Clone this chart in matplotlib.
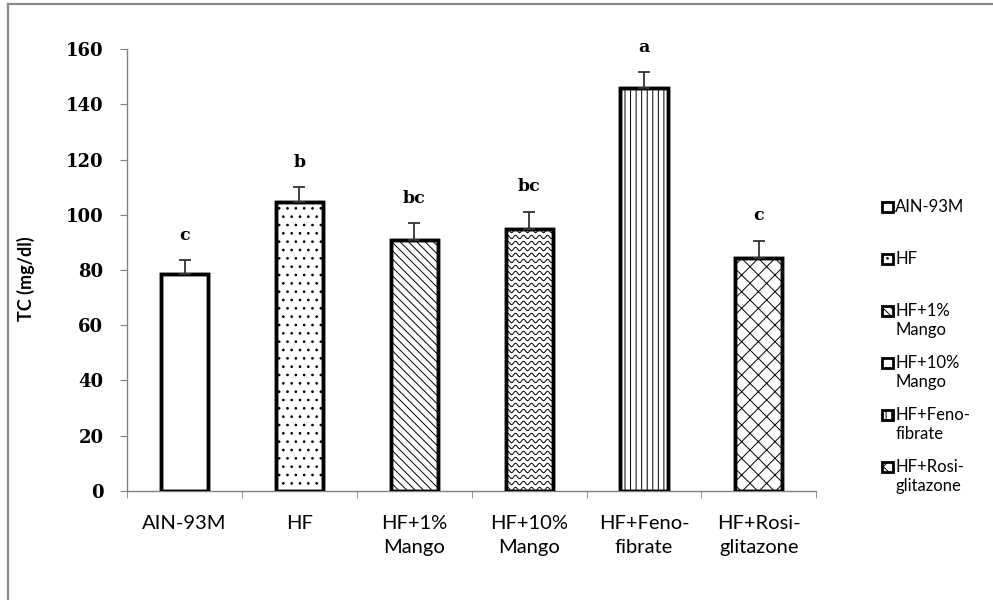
import numpy as np
import matplotlib
matplotlib.use("Agg")
import matplotlib.pyplot as plt
from matplotlib.lines import Line2D
from matplotlib.patches import Rectangle

groups = ["AIN-93M", "HF", "HF+1%\nMango", "HF+10%\nMango", "HF+Feno-\nfibrate", "HF+Rosi-\nglitazone"]
tc_mean = [78.5, 104.5, 91.0, 95.0, 146.0, 84.5]
tc_sd = [5.0, 5.5, 6.0, 6.0, 5.5, 6.0]
letters = ["c", "b", "bc", "bc", "a", "c"]

# hatch per bar, "wave" is drawn by hand below
hatches = [None, "..", "\\\\\\\\", None, "|||", "xx"]

plt.rcParams["hatch.linewidth"] = 0.7

fig = plt.figure(figsize=(9.93, 6.0), dpi=100)
ax = fig.add_axes([0.128, 0.1817, 0.694, 0.7366])

x = np.arange(len(groups))
bars = ax.bar(x, tc_mean, width=0.41, color="white", edgecolor="black",
              linewidth=2.5, hatch=hatches, zorder=2)

ax.set_xlim(-0.5, len(groups) - 0.5)
ax.set_ylim(0, 160)
ax.set_yticks(np.arange(0, 161, 20))

# wavy fill for HF+10% Mango
fig.canvas.draw()
bb = ax.get_window_extent()
dx = (len(groups)) / bb.width
dy = 160 / bb.height
wb = bars[3]
x0, w, h = wb.get_x(), wb.get_width(), wb.get_height()
xs = np.linspace(x0, x0 + w, 200)
for y0 in np.arange(2 * dy, h + 4 * dy, 6 * dy):
    ys = y0 + 1.7 * dy * np.sin(2 * np.pi * (xs - x0) / (8 * dx))
    ln, = ax.plot(xs, ys, color="black", lw=0.7, zorder=2.5)
    ln.set_clip_path(wb)

# outlines on top of fills
ax.bar(x, tc_mean, width=0.41, fill=False, edgecolor="black", linewidth=2.5, zorder=3)

ax.errorbar(x, tc_mean, yerr=[np.zeros(len(x)), tc_sd], fmt="none",
            ecolor="#333333", elinewidth=1.3, capsize=4.5, capthick=1.3, zorder=4)

for xi, m, s, lt in zip(x, tc_mean, tc_sd, letters):
    ax.annotate(lt, (xi, m + s), xytext=(0, 18), textcoords="offset points",
                ha="center", va="center", fontsize=12.5, fontweight="bold",
                family="DejaVu Serif")

for side in ["top", "right"]:
    ax.spines[side].set_visible(False)
for side in ["left", "bottom"]:
    ax.spines[side].set_color("#808080")
    ax.spines[side].set_linewidth(1.0)

ax.set_xticks(x)
ax.set_xticklabels(groups, fontsize=14.5, family="Lato", linespacing=1.5)
ax.set_xticks(np.arange(-0.5, len(groups)), minor=True)
ax.tick_params(axis="x", which="major", length=0, pad=17)
ax.tick_params(axis="x", which="minor", length=5, color="#808080", direction="out")
ax.tick_params(axis="y", length=5, color="#808080", direction="out", pad=12)
for lbl in ax.get_yticklabels():
    lbl.set_family("DejaVu Serif")
    lbl.set_fontweight("bold")
    lbl.set_fontsize(13)

ax.set_ylabel("TC (mg/dl)", fontsize=13, fontweight="bold", family="Lato")
ax.yaxis.set_label_coords(-0.133, 0.48)

# legend on the right, one entry per group
for i, (lab, hat) in enumerate(zip(groups, hatches)):
    top = 1 - (201 + i * 52) / 600
    fig.patches.append(Rectangle((0.888, top - 0.019), 0.011, 0.018,
                                 transform=fig.transFigure, facecolor="white",
                                 edgecolor="black", linewidth=2.0, hatch=hat))
    fig.text(0.9015, top + 0.004, lab, fontsize=12, family="Lato",
             va="top", ha="left", linespacing=1.25)

# page frame
fig.add_artist(Line2D([0.008, 0.008], [0, 0.994], transform=fig.transFigure,
                      color="#8a8a8a", lw=1.6))
fig.add_artist(Line2D([0.008, 1], [0.994, 0.994], transform=fig.transFigure,
                      color="#8a8a8a", lw=1.6))

fig.savefig("out.png", dpi=100)
